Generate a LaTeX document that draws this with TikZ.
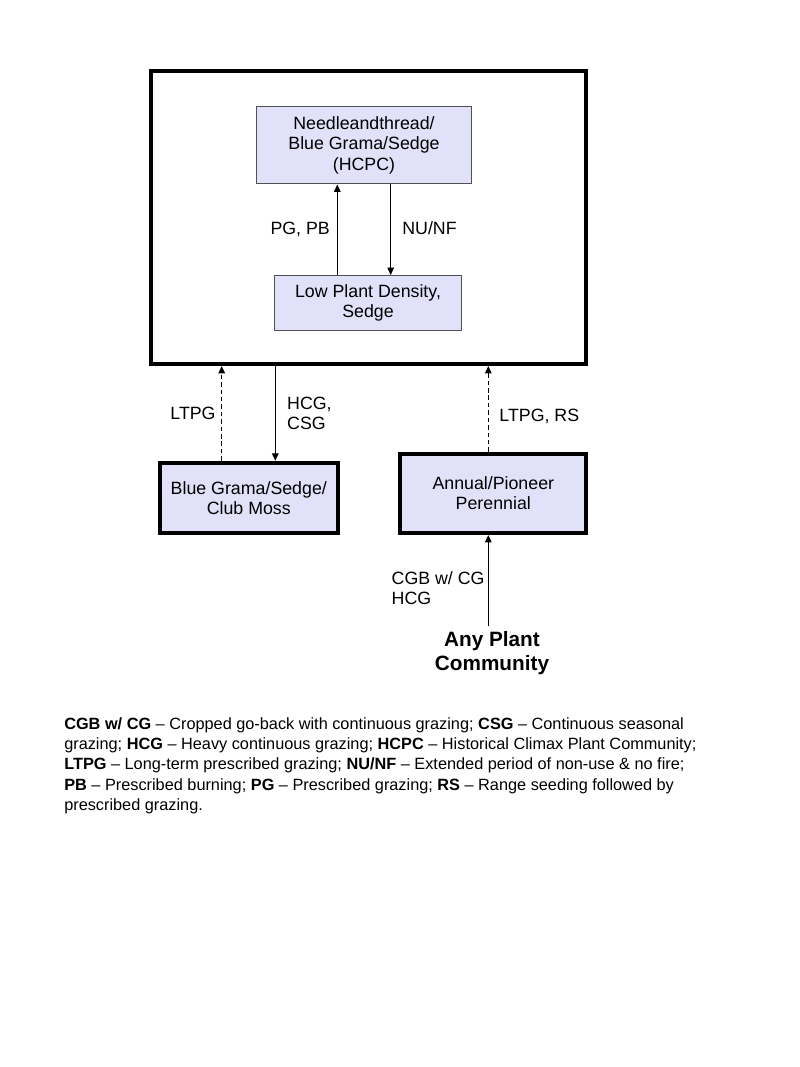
\documentclass[tikz,border=0pt]{standalone}
\usepackage{fontspec}
\setmainfont{Liberation Sans}
\usepackage{tikz}
\usetikzlibrary{arrows.meta, positioning}
\definecolor{StateFill}{HTML}{E1E1F9}
\definecolor{StateEdge}{HTML}{505050}
\tikzset{
  % Box styles
  framebox/.style={rectangle, draw=black, line width=2.7pt, inner sep=0pt},
  statebox/.style={rectangle, draw=StateEdge, line width=0.7pt, fill=StateFill, font=\fontsize{12}{13.8}\selectfont, align=center, inner sep=0pt},
  heavybox/.style={statebox, draw=black, line width=2.7pt},
  % Arrow styles
  arrow/.style={-{Triangle[length=5pt,width=4.5pt]}, line width=0.7pt},
  dashedarrow/.style={arrow, dash pattern=on 3pt off 2pt},
  % Text styles
  tlabel/.style={font=\fontsize{12}{13.8}\selectfont, align=left, inner sep=0pt},
  rootnode/.style={font=\fontsize{14}{16.4}\selectfont\bfseries, align=center}
}

\begin{document}
\begin{tikzpicture}[x=0.675pt, y=-0.675pt]
  \useasboundingbox (0,0) rectangle (800,1067);

  % Reference community frame
  \node[framebox, minimum width=293.6pt, minimum height=197.8pt] (frame) at (368.5,217.5) {};

  \node[statebox, minimum width=144.5pt, minimum height=52.6pt] (hcpc) at (364,145) {Needleandthread/\\Blue Grama/Sedge\\(HCPC)};

  \node[statebox, minimum width=126.2pt, minimum height=37.1pt] (low) at (368,303) {Low Plant Density,\\Sedge};

  % Outside states
  \node[heavybox, minimum width=119.8pt, minimum height=47.5pt] (club) at (248.8,497.9) {Blue Grama/Sedge/\\Club Moss};

  \node[heavybox, minimum width=125.6pt, minimum height=53.5pt] (annual) at (493.3,493.4) {Annual/Pioneer\\Perennial};

  \node[rootnode] (any) at (492,653) {Any Plant\\Community};

  % Transitions
  \coordinate (xpg) at (337.3,0);
  \coordinate (xnu) at (390.7,0);
  \coordinate (xlt) at (221.7,0);
  \coordinate (xhc) at (275.3,0);
  \coordinate (xrs) at (488.3,0);

  \draw[arrow] (low.north -| xpg) -- (hcpc.south -| xpg) node[tlabel, midway, left=4.7pt] {PG, PB};
  \draw[arrow] (hcpc.south -| xnu) -- (low.north -| xnu) node[tlabel, midway, right=7.5pt, yshift=1pt] {NU/NF};

  \draw[dashedarrow] (club.north -| xlt) -- (frame.south -| xlt) node[tlabel, midway, left=3.8pt] {LTPG};
  \draw[arrow] (frame.south -| xhc) -- (club.north -| xhc) node[tlabel, midway, right=7.7pt] {HCG,\\CSG};

  \draw[dashedarrow] (annual.north -| xrs) -- (frame.south -| xrs) node[tlabel, midway, right=7.2pt, yshift=-5pt] {LTPG, RS};
  \draw[arrow] (any.north -| xrs) -- (annual.south -| xrs) node[tlabel, midway, left=2.2pt, yshift=-5.3pt] {CGB w/ CG\\HCG};

  % Legend
  \node[tlabel, anchor=north west, font=\fontsize{11}{13.7}\selectfont] (legend) at (64,717) {\textbf{CGB w/ CG} -- Cropped go-back with continuous grazing; \textbf{CSG} -- Continuous seasonal\\grazing; \textbf{HCG} -- Heavy continuous grazing; \textbf{HCPC} -- Historical Climax Plant Community;\\\textbf{LTPG} -- Long-term prescribed grazing; \textbf{NU/NF} -- Extended period of non-use \& no fire;\\\textbf{PB} -- Prescribed burning; \textbf{PG} -- Prescribed grazing; \textbf{RS} -- Range seeding followed by\\prescribed grazing.};
\end{tikzpicture}
\end{document}
